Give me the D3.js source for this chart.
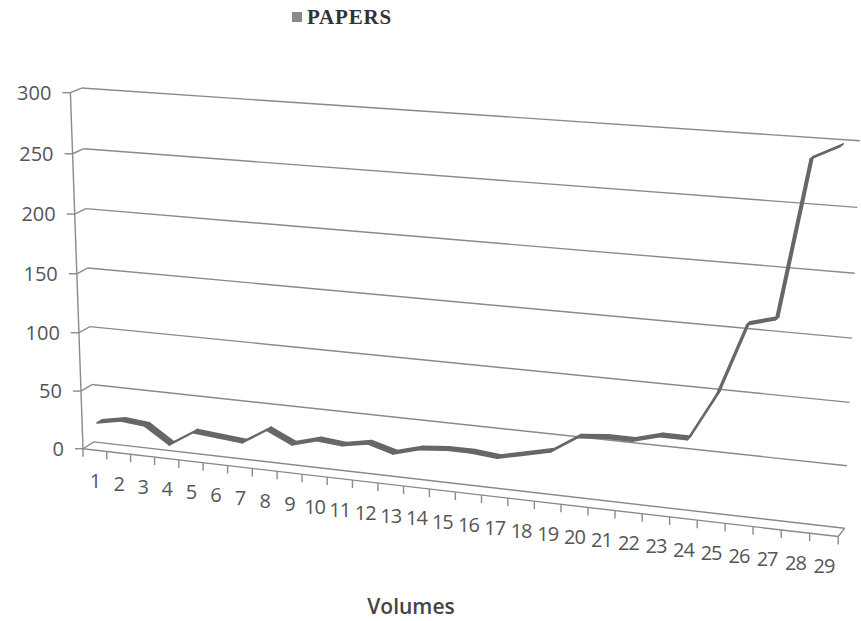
<!DOCTYPE html>
<html>
<head>
<meta charset="utf-8">
<script src="https://cdn.jsdelivr.net/npm/d3@7"></script>
<style>
  body { margin: 0; background: #fff; }
  svg { display: block; }
</style>
</head>
<body>
<svg id="chart" width="861" height="621"></svg>
<script>
// ---- data ----
const volumes = d3.range(1, 30).map(String);
const papers = [22, 26, 24, 10, 23, 21, 19, 32, 22, 28, 26, 30, 24, 30, 32,
                32, 30, 35, 40, 54, 56, 56, 62, 62, 100, 157, 163, 287, 298];
const valueTicks = [0, 50, 100, 150, 200, 250, 300];
const seriesName = "PAPERS";
const axisTitle = "Volumes";

// ---- 3D plot box ----
// The plot box is a unit cube: x = category position, y = value, z = depth (0 front, 1 back).
// These anchors say where some of its corners / edge points sit on the page; a
// perspective camera matrix is fitted to them by least squares.
const boxAnchors = [
  [[0, 0, 0], [83, 448.5]],
  [[0, 1, 0], [71, 92]],
  [[0, 0, 1], [94, 442]],
  [[0, 1, 1], [81, 88.5]],
  [[1, 0, 1], [845, 527.5]],
  [[1, 1, 1], [860, 141]],
  [[1, 0, 0], [838, 537]],
  [[0, 0.5, 1], [88, 268]],
  [[1, 0.5, 1], [852, 338]],
  [[15 / 29, 0, 0], [455, 492.5]]
];

function fitCamera(anchors) {
  const rows = [], rhs = [];
  anchors.forEach(([[X, Y, Z], [u, v]]) => {
    rows.push([X, Y, Z, 1, 0, 0, 0, 0, -u * X, -u * Y, -u * Z]); rhs.push(u);
    rows.push([0, 0, 0, 0, X, Y, Z, 1, -v * X, -v * Y, -v * Z]); rhs.push(v);
  });
  const n = 11;
  const A = Array.from({ length: n }, () => new Array(n + 1).fill(0));
  rows.forEach((r, k) => {
    for (let i = 0; i < n; i++) {
      A[i][n] += r[i] * rhs[k];
      for (let j = 0; j < n; j++) A[i][j] += r[i] * r[j];
    }
  });
  for (let c = 0; c < n; c++) {
    let piv = c;
    for (let r = c + 1; r < n; r++) if (Math.abs(A[r][c]) > Math.abs(A[piv][c])) piv = r;
    [A[c], A[piv]] = [A[piv], A[c]];
    for (let r = 0; r < n; r++) {
      if (r === c) continue;
      const f = A[r][c] / A[c][c];
      for (let k = c; k <= n; k++) A[r][k] -= f * A[c][k];
    }
  }
  return A.map((row, i) => row[n] / row[i]);
}

const cam = fitCamera(boxAnchors);
function project(X, Y, Z) {
  const w = cam[8] * X + cam[9] * Y + cam[10] * Z + 1;
  return [(cam[0] * X + cam[1] * Y + cam[2] * Z + cam[3]) / w,
          (cam[4] * X + cam[5] * Y + cam[6] * Z + cam[7]) / w];
}

// ---- scales ----
const x = d3.scaleBand().domain(volumes).range([0, 1]).padding(0);
const xc = d => x(d) + x.bandwidth() / 2;
const y = d3.scaleLinear().domain([0, 300]).range([0, 1]);
const seriesDepth = [0.27, 0.73];

const svg = d3.select("#chart");
const gridColor = "#8a8a8a";
const line = d3.line();

// ---- walls and floor ----
const frame = svg.append("g").attr("fill", "none").attr("stroke", gridColor).attr("stroke-width", 1.4);

// back-wall gridlines
frame.selectAll(".grid-back").data(valueTicks).join("path")
  .attr("d", t => line([project(0, y(t), 1), project(1, y(t), 1)]));
// side-wall gridlines
frame.selectAll(".grid-side").data(valueTicks).join("path")
  .attr("d", t => line([project(0, y(t), 0), project(0, y(t), 1)]));
// floor: front edge (category axis) and right edge
frame.append("path").attr("d", line([project(0, 0, 0), project(1, 0, 0)]));
frame.append("path").attr("d", line([project(1, 0, 0), project(1, 0, 1)]));
// value axis
frame.append("path").attr("d", line([project(0, 0, 0), project(0, 1, 0)]));

// value ticks
const tickLen = 8;
frame.selectAll(".ytick").data(valueTicks).join("path")
  .attr("d", t => { const [px, py] = project(0, y(t), 0); return line([[px - tickLen, py], [px, py]]); });

// category ticks at band boundaries
const bounds = volumes.map(d => x(d)).concat([1]);
frame.selectAll(".xtick").data(bounds).join("path")
  .attr("d", b => { const [px, py] = project(b, 0, 0); return line([[px, py], [px, py + tickLen]]); });

// ---- labels ----
const labelFont = "'Open Sans', 'Liberation Sans', sans-serif";
svg.append("g").selectAll("text").data(valueTicks).join("text")
  .attr("x", t => project(0, y(t), 0)[0] - tickLen - 11)
  .attr("y", t => project(0, y(t), 0)[1])
  .attr("dy", "0.35em")
  .attr("text-anchor", "end")
  .attr("font-family", labelFont).attr("font-size", 20).attr("fill", "#555")
  .text(t => t);

svg.append("g").selectAll("text").data(volumes).join("text")
  .attr("x", d => project(xc(d), 0, 0)[0])
  .attr("y", d => project(xc(d), 0, 0)[1] + 31)
  .attr("dy", "0.35em")
  .attr("text-anchor", "middle")
  .attr("font-family", labelFont).attr("font-size", 20).attr("fill", "#555")
  .attr("letter-spacing", "-1")
  .text(d => d);

svg.append("text")
  .attr("x", 411).attr("y", 607).attr("dy", "0.35em")
  .attr("text-anchor", "middle")
  .attr("font-family", labelFont).attr("font-size", 21).attr("font-weight", 600).attr("fill", "#444")
  .text(axisTitle);

// ---- legend ----
const legend = svg.append("g");
legend.append("rect").attr("x", 292).attr("y", 12).attr("width", 10).attr("height", 10).attr("fill", "#8a8a8a");
legend.append("text").attr("x", 307).attr("y", 17).attr("dy", "0.35em")
  .attr("font-family", "'Liberation Serif', 'Times New Roman', serif")
  .attr("font-size", 21).attr("font-weight", "bold").attr("fill", "#333")
  .attr("letter-spacing", "0.8")
  .text(seriesName);

// ---- series ribbon ----
const pts = volumes.map((d, i) => ({ x: xc(d), v: y(papers[i]) }));
const segments = d3.pairs(pts);
const ribbonColor = "#676767";
svg.append("g").selectAll("path").data(segments).join("path")
  .attr("d", ([a, b]) => line([
    project(a.x, a.v, seriesDepth[0]), project(b.x, b.v, seriesDepth[0]),
    project(b.x, b.v, seriesDepth[1]), project(a.x, a.v, seriesDepth[1])
  ]) + "Z")
  .attr("fill", ribbonColor)
  .attr("stroke", ribbonColor)
  .attr("stroke-width", 1.6)
  .attr("stroke-linejoin", "round");
</script>
</body>
</html>
